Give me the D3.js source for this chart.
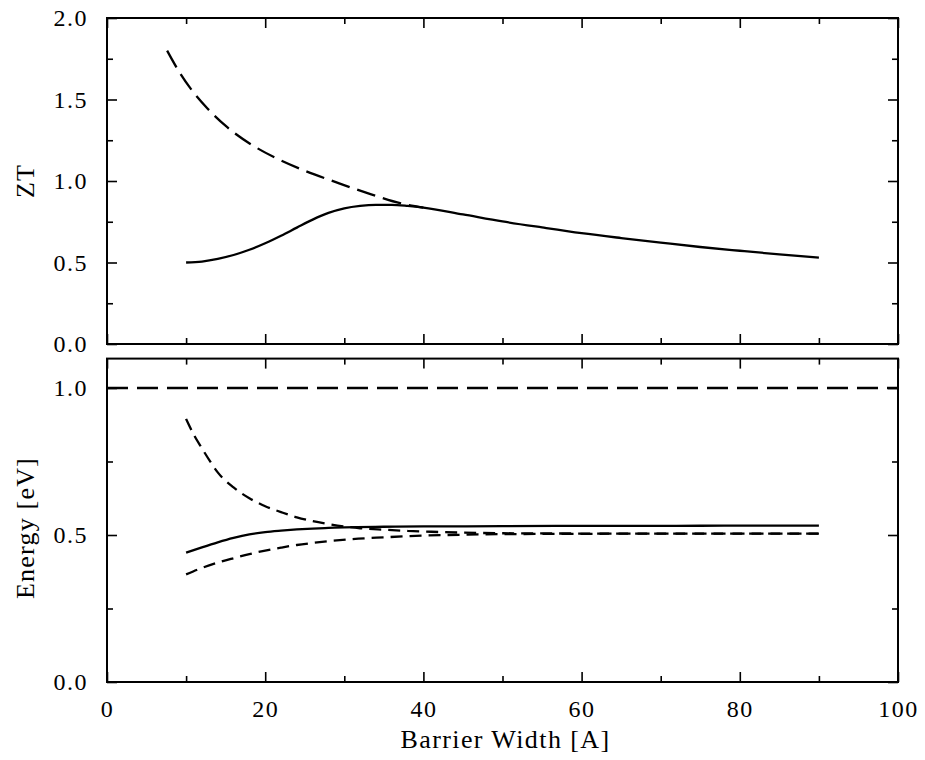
<!DOCTYPE html>
<html>
<head>
<meta charset="utf-8">
<script src="https://cdn.jsdelivr.net/npm/d3@7"></script>
<style>
  body { margin: 0; background: #fff; }
</style>
</head>
<body>
<div id="chart"></div>
<script>
// upper panel: ZT vs barrier width
var ztSolidX = [10,12,14,16,18,20,22,24,26,28,30,32,34,36,38,40,45,50,55,60,65,70,75,80,85,90];
var ztSolidY = [0.50,0.506,0.522,0.546,0.578,0.618,0.664,0.714,0.763,0.804,0.832,0.847,0.853,0.853,0.847,0.837,0.795,0.752,0.715,0.68,0.65,0.622,0.595,0.572,0.55,0.53];
var ztDashX = [7.6,9,10.6,12.7,15.2,18.2,21.6,24.9,29.1,33.4,38,40];
var ztDashY = [1.80,1.68,1.565,1.445,1.33,1.225,1.135,1.065,0.99,0.918,0.853,0.837];

// lower panel: energies
var barrierX = [0,100];
var barrierY = [1.0,1.0];
var enSolidX = [10,12,14,16,18,20,22,24,26,28,30,35,40,50,60,70,80,90];
var enSolidY = [0.44,0.458,0.475,0.49,0.502,0.51,0.515,0.519,0.522,0.524,0.526,0.528,0.529,0.53,0.531,0.531,0.532,0.532];
var enUpperX = [10,11,12,13,14,16,18,20,22,24,26,28,30,32,35,38,41,45,50,60,70,80,90];
var enUpperY = [0.895,0.84,0.795,0.752,0.713,0.662,0.625,0.598,0.578,0.56,0.547,0.537,0.529,0.523,0.518,0.514,0.511,0.508,0.506,0.505,0.505,0.505,0.505];
var enLowerX = [10,12,14,16,18,20,22,24,26,28,31,35,39,45,50,60,70,80,90];
var enLowerY = [0.366,0.388,0.406,0.421,0.435,0.447,0.457,0.466,0.473,0.479,0.486,0.492,0.497,0.501,0.503,0.504,0.505,0.505,0.505];

// ticks
var xMajor = [0,20,40,60,80,100];
var xMinor = [10,30,50,70,90];
var ztMajor = [0,0.5,1.0,1.5,2.0];
var ztMinor = [0.25,0.75,1.25,1.75];
var enMajor = [0,0.5,1.0];
var enMinor = [0.25,0.75];

var width = 925, height = 760;
var left = 107, right = 898;
var serif = '"Liberation Serif", "Times New Roman", Times, serif';

var svg = d3.select("#chart").append("svg")
    .attr("width", width)
    .attr("height", height);

var x = d3.scaleLinear().domain([0,100]).range([left, right]);
var yTop = d3.scaleLinear().domain([0,2]).range([344, 18]);
var yBot = d3.scaleLinear().domain([0,1.1]).range([682, 358.6]);

function zip(xs, ys) {
    return xs.map(function(d, i) { return [d, ys[i]]; });
}

function panel(y, major, minor, showX) {
    var g = svg.append("g");
    var y0 = y.range()[0], y1 = y.range()[1];

    // left axis with labels
    g.append("g").attr("transform", "translate(" + left + ",0)")
        .call(d3.axisLeft(y).tickValues(major).tickSize(-10).tickPadding(19)
            .tickFormat(d3.format(".1f")));
    g.append("g").attr("transform", "translate(" + left + ",0)")
        .call(d3.axisLeft(y).tickValues(minor).tickSize(-6).tickFormat(""));
    // right axis
    g.append("g").attr("transform", "translate(" + right + ",0)")
        .call(d3.axisRight(y).tickValues(major).tickSize(-10).tickFormat(""));
    g.append("g").attr("transform", "translate(" + right + ",0)")
        .call(d3.axisRight(y).tickValues(minor).tickSize(-6).tickFormat(""));
    // top and bottom
    g.append("g").attr("transform", "translate(0," + y1 + ")")
        .call(d3.axisTop(x).tickValues(xMajor).tickSize(-10).tickFormat(""));
    g.append("g").attr("transform", "translate(0," + y1 + ")")
        .call(d3.axisTop(x).tickValues(xMinor).tickSize(-6).tickFormat(""));
    g.append("g").attr("transform", "translate(0," + y0 + ")")
        .call(d3.axisBottom(x).tickValues(xMajor).tickSize(-10).tickPadding(18)
            .tickFormat(showX ? d3.format("d") : ""));
    g.append("g").attr("transform", "translate(0," + y0 + ")")
        .call(d3.axisBottom(x).tickValues(xMinor).tickSize(-6).tickFormat(""));

    g.selectAll(".domain").remove();
    g.selectAll(".tick line").attr("stroke", "#000").attr("stroke-width", 1.6);
    g.selectAll(".tick text")
        .style("font-family", serif)
        .style("font-size", "24px")
        .style("letter-spacing", "1.5px")
        .attr("fill", "#000");

    g.append("rect")
        .attr("x", left).attr("y", y1)
        .attr("width", right - left).attr("height", y0 - y1)
        .attr("fill", "none").attr("stroke", "#000").attr("stroke-width", 2);
    return g;
}

panel(yTop, ztMajor, ztMinor, false);
panel(yBot, enMajor, enMinor, true);

function drawLine(y, data, dash, offset) {
    var line = d3.line()
        .x(function(d) { return x(d[0]); })
        .y(function(d) { return y(d[1]); })
        .curve(d3.curveMonotoneX);
    svg.append("path")
        .datum(data)
        .attr("d", line)
        .attr("fill", "none")
        .attr("stroke", "#000")
        .attr("stroke-width", 2.3)
        .attr("stroke-dasharray", dash)
        .attr("stroke-dashoffset", offset || 0);
}

drawLine(yTop, zip(ztDashX, ztDashY), "19,8");
drawLine(yTop, zip(ztSolidX, ztSolidY), null);

drawLine(yBot, zip(barrierX, barrierY), "21,9");
drawLine(yBot, zip(enSolidX, enSolidY), null);
drawLine(yBot, zip(enUpperX, enUpperY), "12,7");
drawLine(yBot, zip(enLowerX, enLowerY), "12,7");

// axis titles
function title(t, transform, ls) {
    svg.append("text")
        .attr("transform", transform)
        .attr("text-anchor", "middle")
        .attr("fill", "#000")
        .style("font-family", serif)
        .style("font-size", "26px")
        .style("letter-spacing", ls)
        .text(t);
}

title("Barrier Width [A]", "translate(" + ((left + right) / 2 + 3) + ",748)", "1.4px");
title("ZT", "translate(34,181) rotate(-90)", "1px");
title("Energy [eV]", "translate(34,528) rotate(-90)", "1.2px");
</script>
</body>
</html>
